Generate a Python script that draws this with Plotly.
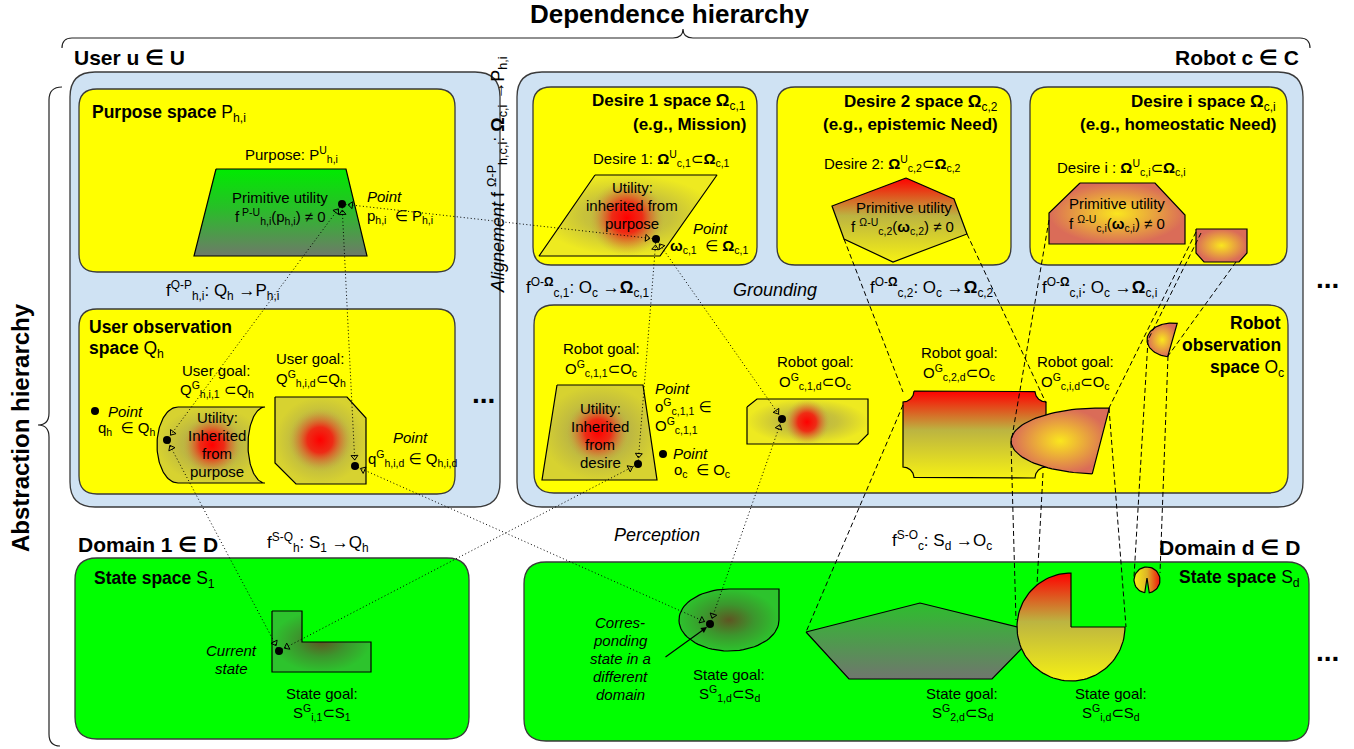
import numpy as np
import plotly.graph_objects as go

W, H = 1354, 749
FONT = "Liberation Sans, Arial, DejaVu Sans, sans-serif"
BLUE = "rgb(207,226,243)"
YEL = "rgb(255,255,0)"
GRN = "rgb(0,255,0)"

# ---------------- containers (x0, y0, x1, y1, radius, fill) ----------------
containers = [
    (70, 72, 500, 507, 25, BLUE),     # user
    (517, 72, 1303, 507, 25, BLUE),   # robot
    (79, 89, 455, 272, 18, YEL),      # purpose space
    (79, 309, 455, 494, 18, YEL),     # user observation space
    (533, 87, 757, 265, 18, YEL),     # desire 1
    (777, 87, 1011, 265, 18, YEL),    # desire 2
    (1030, 87, 1287, 265, 18, YEL),   # desire i
    (534, 305, 1288, 493, 20, YEL),   # robot observation space
    (75, 558, 469, 739, 22, GRN),     # state space S1
    (524, 562, 1309, 741, 22, GRN),   # state space Sd
]

# ---------------- polygon regions ----------------
purpose_trap = [(216, 169), (346, 169), (367, 256), (194, 256)]
desire1_para = [(595, 175), (717, 175), (660, 256), (539, 256)]
desire2_hex = [(906, 178), (954, 199), (967, 234), (893, 262), (844, 239), (832, 206)]
desirei_oct = [(1080, 183), (1155, 183), (1185, 215), (1185, 244), (1049, 244), (1049, 213)]
desirei_small = [(1196, 229), (1247, 229), (1247, 253), (1239, 262), (1204, 262), (1196, 253)]
ug2_oct = [(275, 397), (347, 397), (366, 418), (366, 484), (296, 484), (275, 463)]
rg1_trap = [(557, 385), (643, 385), (657, 480), (542, 480)]
rg2_oct = [(747, 407), (757, 399), (868, 399), (868, 434), (858, 444), (747, 444)]
l_shape = [(272, 611), (302, 611), (302, 642), (371, 642), (371, 672), (272, 672)]
pentagon = [(806, 632), (920, 603), (1030, 630), (1030, 640), (992, 679), (849, 679)]

# red utility peaks inside regions: (cx, cy, radius)
red_peaks = [(627, 218, 38), (212, 445, 30), (320, 440, 32), (598, 432, 32), (807, 422, 23)]

# ---------------- colour scales ----------------
CS_PURPOSE = [[0, "rgb(0,235,0)"], [0.45, "rgb(40,190,40)"], [1, "rgb(110,122,105)"]]
CS_OLIVE = [[0, "rgb(182,174,74)"], [0.55, "rgb(190,184,65)"], [1, "rgb(215,210,48)"]]
CS_OLIVE_Y = [[0, "rgb(182,174,74)"], [0.5, "rgb(200,194,58)"], [1, "rgb(238,234,32)"]]
CS_PEAK = [[0, "rgba(255,0,0,1)"], [0.4, "rgba(245,25,15,0.88)"], [0.72, "rgba(220,90,45,0.4)"],
           [1, "rgba(190,175,70,0)"]]
CS_RED_TOP = [[0, "rgb(255,0,0)"], [0.45, "rgb(188,180,65)"], [1, "rgb(245,240,20)"]]
CS_YEL_SALMON = [[0, "rgb(250,230,30)"], [1, "rgb(218,108,88)"]]
CS_DARKGREEN = [[0, "rgb(95,85,35)"], [0.5, "rgb(60,150,45)"], [1, "rgb(45,195,45)"]]
CS_PENT = [[0, "rgb(45,190,45)"], [1, "rgb(112,118,110)"]]
CS_SMALLPAC = [[0, "rgb(250,240,20)"], [0.5, "rgb(220,180,40)"], [1, "rgb(240,20,10)"]]

# ---------------- points ----------------
P_purpose = (342, 204)
P_desire1 = (656, 239)
P_ug1 = (167, 440)
P_ug2 = (355, 466)
P_rg1 = (638, 464)
P_rg2 = (782, 419)
P_cur = (279, 651)
P_corr = (710, 624)
legend_dots = [(95, 411), (663, 454)]

dotted_links = [
    (P_purpose, P_desire1), (P_purpose, P_ug1), (P_purpose, P_ug2),
    (P_ug1, P_cur), (P_ug2, P_corr), (P_cur, P_rg1),
    (P_rg1, P_desire1), (P_desire1, P_rg2), (P_rg2, P_corr),
]

dashed_links = [
    ((844, 239), (903, 392)), ((903, 405), (806, 632)), ((967, 234), (1046, 403)),
    ((1049, 220), (1011, 443)), ((1196, 232), (1109, 408)), ((1201, 233), (1148, 340)),
    ((1236, 262), (1168, 356)), ((1011, 443), (1016, 620)), ((1043, 473), (1037, 585)),
    ((1109, 408), (1126, 627)), ((1148, 340), (1134, 577)), ((1168, 356), (1160, 573)),
]

# ---------------- texts: (x, y, text, size, xanchor, textangle) ----------------
texts = [
    (669, 14, "<b>Dependence hierarchy</b>", 26, "center", 0),
    (20, 428, "<b>Abstraction hierarchy</b>", 24, "center", -90),
    (72, 57, "<b>User u ∈ U</b>", 21, "left", 0),
    (1301, 57, "<b>Robot c ∈ C</b>", 21, "right", 0),
    # purpose
    (90, 113, "<b>Purpose space</b> P<sub>h,i</sub>", 17.5, "left", 0),
    (291, 154, "Purpose: P<sup>U</sup><sub>h,i</sub>", 15, "center", 0),
    (280, 197, "Primitive utility", 15, "center", 0),
    (280, 216, "f<sup> P-U</sup><sub>h,i</sub>(p<sub>h,i</sub>) ≠ 0", 15, "center", 0),
    (365, 196, "<i>Point</i>", 15, "left", 0),
    (365, 216, "p<sub>h,i</sub>  ∈ P<sub>h,i</sub>", 15, "left", 0),
    (222, 290, "f<sup>Q-P</sup><sub>h,i</sub>: Q<sub>h</sub> →P<sub>h,i</sub>", 17, "center", 0),
    # user observation
    (87, 327, "<b>User observation</b>", 17.5, "left", 0),
    (87, 349, "<b>space</b> Q<sub>h</sub>", 17.5, "left", 0),
    (216, 370, "User goal:", 15, "center", 0),
    (217, 389, "Q<sup>G</sup><sub>h,i,1</sub> ⊂Q<sub>h</sub>", 15, "center", 0),
    (310, 358, "User goal:", 15, "center", 0),
    (311, 378, "Q<sup>G</sup><sub>h,i,d</sub>⊂Q<sub>h</sub>", 15, "center", 0),
    (106, 411, "<i>Point</i>", 15, "left", 0),
    (96, 428, "q<sub>h</sub>  ∈ Q<sub>h</sub>", 15, "left", 0),
    (217, 417, "Utility:", 15, "center", 0),
    (217, 435, "Inherited", 15, "center", 0),
    (217, 453, "from", 15, "center", 0),
    (217, 471, "purpose", 15, "center", 0),
    (410, 437, "<i>Point</i>", 15, "center", 0),
    (366, 458, "q<sup>G</sup><sub>h,i,d</sub> ∈ Q<sub>h,i,d</sub>", 15, "left", 0),
    (483, 393, "<b>...</b>", 28, "center", 0),
    # alignment
    (497, 175, "<i>Alignement</i> f <sup>Ω-P</sup><sub>h,c,i</sub>: <b>Ω</b><sub>c,i</sub> →P<sub>h,i</sub>", 18, "center", -90),
    # desire 1
    (748, 102, "<b>Desire 1 space Ω</b><sub>c,1</sub>", 17, "right", 0),
    (748, 124, "<b>(e.g., Mission)</b>", 17, "right", 0),
    (661, 158, "Desire 1: <b>Ω</b><sup>U</sup><sub>c,1</sub>⊂<b>Ω</b><sub>c,1</sub>", 15, "center", 0),
    (632, 187, "Utility:", 15, "center", 0),
    (632, 205, "inherited from", 15, "center", 0),
    (632, 223, "purpose", 15, "center", 0),
    (710, 228, "<i>Point</i>", 15, "center", 0),
    (709, 246, "<b>ω</b><sub>c,1</sub>  ∈ <b>Ω</b><sub>c,1</sub>", 15, "center", 0),
    # desire 2
    (1000, 103, "<b>Desire 2 space Ω</b><sub>c,2</sub>", 17, "right", 0),
    (1000, 124, "<b>(e.g., epistemic Need)</b>", 17, "right", 0),
    (892, 163, "Desire 2: <b>Ω</b><sup>U</sup><sub>c,2</sub>⊂<b>Ω</b><sub>c,2</sub>", 15, "center", 0),
    (904, 207, "Primitive utility", 15, "center", 0),
    (902, 226, "f <sup>Ω-U</sup><sub>c,2</sub>(<b>ω</b><sub>c,2</sub>) ≠ 0", 15, "center", 0),
    # desire i
    (1278, 103, "<b>Desire i space Ω</b><sub>c,i</sub>", 17, "right", 0),
    (1278, 124, "<b>(e.g., homeostatic Need)</b>", 17, "right", 0),
    (1121, 167, "Desire i : <b>Ω</b><sup>U</sup><sub>c,i</sub>⊂<b>Ω</b><sub>c,i</sub>", 15, "center", 0),
    (1117, 203, "Primitive utility", 15, "center", 0),
    (1117, 223, "f <sup>Ω-U</sup><sub>c,i</sub>(<b>ω</b><sub>c,i</sub>) ≠ 0", 15, "center", 0),
    # grounding row
    (588, 287, "f<sup>O-<b>Ω</b></sup><sub>c,1</sub>: O<sub>c</sub> →<b>Ω</b><sub>c,1</sub>", 17, "center", 0),
    (775, 290, "<i>Grounding</i>", 18, "center", 0),
    (932, 287, "f<sup>O-<b>Ω</b></sup><sub>c,2</sub>: O<sub>c</sub> →<b>Ω</b><sub>c,2</sub>", 17, "center", 0),
    (1099, 287, "f<sup>O-<b>Ω</b></sup><sub>c,i</sub>: O<sub>c</sub> →<b>Ω</b><sub>c,i</sub>", 17, "center", 0),
    (1327, 278, "<b>...</b>", 28, "center", 0),
    # robot observation
    (601, 348, "Robot goal:", 15, "center", 0),
    (601, 368, "O<sup>G</sup><sub>c,1,1</sub>⊂O<sub>c</sub>", 15, "center", 0),
    (600, 408, "Utility:", 15, "center", 0),
    (600, 426, "Inherited", 15, "center", 0),
    (600, 444, "from", 15, "center", 0),
    (600, 462, "desire", 15, "center", 0),
    (653, 388, "<i>Point</i>", 15, "left", 0),
    (653, 406, "o<sup>G</sup><sub>c,1,1</sub> ∈", 15, "left", 0),
    (653, 425, "O<sup>G</sup><sub>c,1,1</sub>", 15, "left", 0),
    (671, 453, "<i>Point</i>", 15, "left", 0),
    (672, 470, "o<sub>c</sub>  ∈ O<sub>c</sub>", 15, "left", 0),
    (815, 361, "Robot goal:", 15, "center", 0),
    (815, 381, "O<sup>G</sup><sub>c,1,d</sub>⊂O<sub>c</sub>", 15, "center", 0),
    (959, 352, "Robot goal:", 15, "center", 0),
    (959, 372, "O<sup>G</sup><sub>c,2,d</sub>⊂O<sub>c</sub>", 15, "center", 0),
    (1075, 361, "Robot goal:", 15, "center", 0),
    (1075, 381, "O<sup>G</sup><sub>c,i,d</sub>⊂O<sub>c</sub>", 15, "center", 0),
    (1283, 323, "<b>Robot</b>", 17.5, "right", 0),
    (1283, 345, "<b>observation</b>", 17.5, "right", 0),
    (1286, 368, "<b>space</b> O<sub>c</sub>", 17.5, "right", 0),
    # domain 1
    (76, 544, "<b>Domain 1 ∈ D</b>", 21, "left", 0),
    (318, 542, "f<sup>S-Q</sup><sub>h</sub>: S<sub>1</sub> →Q<sub>h</sub>", 17, "center", 0),
    (92, 579, "<b>State space</b> S<sub>1</sub>", 17.5, "left", 0),
    (231, 650, "<i>Current</i>", 15, "center", 0),
    (231, 668, "<i>state</i>", 15, "center", 0),
    (322, 693, "State goal:", 15, "center", 0),
    (322, 712, "S<sup>G</sup><sub>i,1</sub>⊂S<sub>1</sub>", 15, "center", 0),
    # domain d
    (657, 535, "<i>Perception</i>", 18, "center", 0),
    (942, 540, "f<sup>S-O</sup><sub>c</sub>: S<sub>d</sub> →O<sub>c</sub>", 17, "center", 0),
    (1302, 547, "<b>Domain d ∈ D</b>", 21, "right", 0),
    (1302, 578, "<b>State space</b> S<sub>d</sub>", 17.5, "right", 0),
    (620, 622, "<i>Corres-</i>", 15, "center", 0),
    (620, 640, "<i>ponding</i>", 15, "center", 0),
    (620, 658, "<i>state in a</i>", 15, "center", 0),
    (620, 676, "<i>different</i>", 15, "center", 0),
    (620, 694, "<i>domain</i>", 15, "center", 0),
    (729, 674, "State goal:", 15, "center", 0),
    (729, 693, "S<sup>G</sup><sub>1,d</sub>⊂S<sub>d</sub>", 15, "center", 0),
    (962, 693, "State goal:", 15, "center", 0),
    (962, 712, "S<sup>G</sup><sub>2,d</sub>⊂S<sub>d</sub>", 15, "center", 0),
    (1111, 693, "State goal:", 15, "center", 0),
    (1111, 712, "S<sup>G</sup><sub>i,d</sub>⊂S<sub>d</sub>", 15, "center", 0),
    (1327, 651, "<b>...</b>", 28, "center", 0),
]


# ---------------- helpers ----------------
def rrect(x0, y0, x1, y1, r):
    return (f"M{x0+r},{y0} L{x1-r},{y0} Q{x1},{y0} {x1},{y0+r} L{x1},{y1-r} "
            f"Q{x1},{y1} {x1-r},{y1} L{x0+r},{y1} Q{x0},{y1} {x0},{y1-r} "
            f"L{x0},{y0+r} Q{x0},{y0} {x0+r},{y0} Z")


def arc(cx, cy, rx, ry, t0, t1, n=60):
    t = np.radians(np.linspace(t0, t1, n))
    return list(zip(cx + rx * np.cos(t), cy + ry * np.sin(t)))


fig = go.Figure()

for (x0, y0, x1, y1, r, col) in containers:
    fig.add_shape(type="path", path=rrect(x0, y0, x1, y1, r), fillcolor=col,
                  line=dict(color="#3a3a3a", width=1.3), layer="below")

# braces
fig.add_shape(type="path",
              path="M62,48 Q62,38 72,38 L673,38 Q683,38 683,29 Q683,38 693,38 L1300,38 Q1310,38 1310,48",
              line=dict(color="#222", width=1.2), layer="below")
fig.add_shape(type="path",
              path="M62,87 Q49,87 49,100 L49,413 Q49,425 38,425 Q49,425 49,437 L49,734 Q49,746 60,746",
              line=dict(color="#222", width=1.2), layer="below")


def gshape(pts, gtype, cs, start=None, stop=None, lw=1.2):
    xs = [p[0] for p in pts] + [pts[0][0]]
    ys = [p[1] for p in pts] + [pts[0][1]]
    g = dict(type=gtype, colorscale=cs)
    if start is not None:
        g["start"] = start
        g["stop"] = stop
    fig.add_trace(go.Scatter(x=xs, y=ys, mode="lines", fill="toself", fillgradient=g,
                             line=dict(color="black", width=lw), hoverinfo="skip"))


# curved regions
cyl = [(178, 407), (265, 407)] + arc(265, 445, 17, 38, -90, -270) + [(178, 483)] + arc(178, 445, 21, 38, 90, 270)
ellipse_seg = arc(1100, 441, 89, 33, 95, 276)
half_circ = arc(1172, 340, 25, 17, 100, 282)
teardrop = arc(729, 620, 50, 31, 0, 270) + [(779, 589)]
pacman = [(1071, 627)] + arc(1071, 627, 54, 54, 0, 270, 90)
small_pac = arc(1147, 580, 13, 13, 100, 440, 50) + [(1147, 578)]
ticket = ([(914, 391), (1035, 391)] + arc(1046, 391, 11, 11, 180, 90) + [(1046, 467)]
          + arc(1046, 478, 11, 11, 270, 180) + [(914, 478)] + arc(903, 478, 11, 11, 0, -90)
          + [(903, 402)] + arc(903, 391, 11, 11, 90, 0))

gshape(purpose_trap, "vertical", CS_PURPOSE, 169, 256)
gshape(desire1_para, "radial", CS_OLIVE_Y)
gshape(desire2_hex, "vertical", CS_RED_TOP, 178, 262)
gshape(desirei_oct, "radial", CS_YEL_SALMON)
gshape(desirei_small, "radial", CS_YEL_SALMON)
gshape(cyl, "radial", CS_OLIVE)
gshape(ug2_oct, "radial", CS_OLIVE)
gshape(rg1_trap, "radial", CS_OLIVE)
gshape(rg2_oct, "radial", CS_OLIVE_Y)
gshape(ticket, "vertical", CS_RED_TOP, 391, 478)
gshape(ellipse_seg, "radial", CS_YEL_SALMON)
gshape(half_circ, "radial", CS_YEL_SALMON)
gshape(l_shape, "radial", CS_DARKGREEN)
gshape(teardrop, "radial", CS_DARKGREEN)
gshape(pentagon, "vertical", CS_PENT, 603, 679)
gshape(pacman, "vertical", CS_RED_TOP, 573, 681)
gshape(small_pac, "horizontal", CS_SMALLPAC, 1134, 1160)

# circular red utility peaks (fade to transparent)
for (cx, cy, r) in red_peaks:
    gshape(arc(cx, cy, r, r, 0, 360, 80), "radial", CS_PEAK, lw=0)

# dashed grounding / perception lines
for (a, b) in dashed_links:
    fig.add_trace(go.Scatter(x=[a[0], b[0]], y=[a[1], b[1]], mode="lines",
                             line=dict(color="black", width=1, dash="5px,3px"), hoverinfo="skip"))

# dotted alignment lines + open arrowheads
ax_, ay_, ang_ = [], [], []
for (a, b) in dotted_links:
    fig.add_trace(go.Scatter(x=[a[0], b[0]], y=[a[1], b[1]], mode="lines",
                             line=dict(color="black", width=1, dash="1px,2.5px"), hoverinfo="skip"))
    d = np.array(b, float) - np.array(a, float)
    u = d / np.linalg.norm(d)
    for end, direc in [(np.array(a, float), -u), (np.array(b, float), u)]:
        pos = end - direc * 9
        ax_.append(pos[0]); ay_.append(pos[1])
        ang_.append(np.degrees(np.arctan2(direc[0], -direc[1])))
fig.add_trace(go.Scatter(x=ax_, y=ay_, mode="markers",
                         marker=dict(symbol="triangle-up-open", size=6, angle=ang_,
                                     color="black", line=dict(width=1)), hoverinfo="skip"))

pts = [P_purpose, P_desire1, P_ug1, P_ug2, P_rg1, P_rg2, P_cur, P_corr] + legend_dots
fig.add_trace(go.Scatter(x=[p[0] for p in pts], y=[p[1] for p in pts], mode="markers",
                         marker=dict(color="black", size=8), hoverinfo="skip"))

for (x, y, t, s, anc, ang) in texts:
    fig.add_annotation(x=x, y=y, text=t, showarrow=False, xanchor=anc, yanchor="middle",
                       textangle=ang, font=dict(family=FONT, size=s, color="black"))

fig.add_annotation(x=707, y=627, ax=664, ay=658, axref="x", ayref="y", xref="x", yref="y",
                   text="", showarrow=True, arrowhead=2, arrowsize=1, arrowwidth=1.2, arrowcolor="black")

fig.update_layout(
    width=W, height=H, margin=dict(l=0, r=0, t=0, b=0),
    paper_bgcolor="white", plot_bgcolor="white", showlegend=False,
    xaxis=dict(range=[0, W], visible=False, fixedrange=True),
    yaxis=dict(range=[H, 0], visible=False, fixedrange=True),
)
fig.write_html("out.html", config={"displayModeBar": False},
               post_script="document.body.style.margin='0px';document.body.style.overflow='hidden';")
